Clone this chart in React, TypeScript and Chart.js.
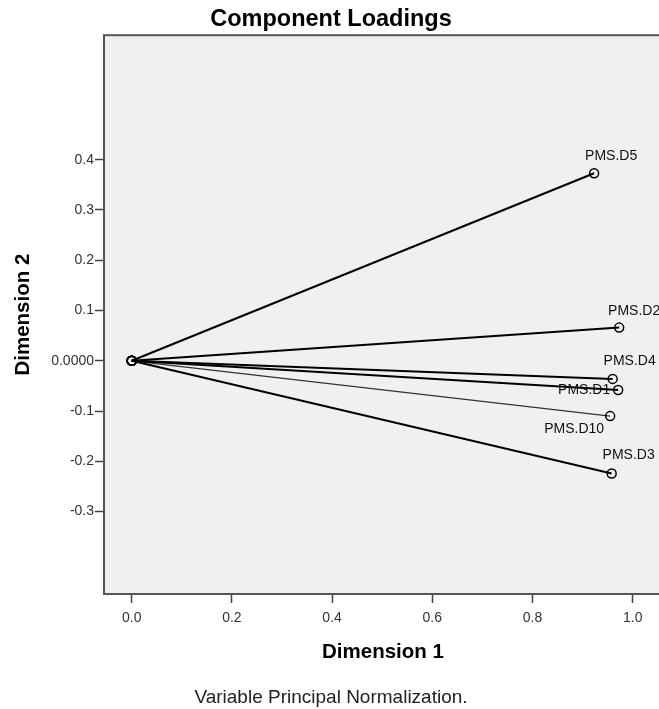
import React, { useEffect, useRef } from 'react';
import { Chart, registerables } from 'chart.js';

Chart.register(...registerables);

// ---- data ----
const variables = ['PMS.D5', 'PMS.D2', 'PMS.D4', 'PMS.D1', 'PMS.D10', 'PMS.D3'];
const dimension1 = [0.923, 0.973, 0.96, 0.971, 0.955, 0.958];
const dimension2 = [0.373, 0.066, -0.036, -0.058, -0.11, -0.224];
const xTickValues = [0, 0.2, 0.4, 0.6, 0.8, 1.0];
const xTickLabels = ['0.0', '0.2', '0.4', '0.6', '0.8', '1.0'];
const yTickValues = [-0.3, -0.2, -0.1, 0, 0.1, 0.2, 0.3, 0.4];
const yTickLabels = ['-0.3', '-0.2', '-0.1', '0.0000', '0.1', '0.2', '0.3', '0.4'];

// ---- styling ----
const FONT = 'Arial, "Liberation Sans", Helvetica, sans-serif';
const LABEL_OFFSETS: Record<string, [number, number]> = {
  'PMS.D5': [17, -17],
  'PMS.D2': [15, -16],
  'PMS.D4': [17, -18],
  'PMS.D1': [-34, 0],
  'PMS.D10': [-36, 13],
  'PMS.D3': [17, -18],
};

const findLabel = (vals: number[], labels: string[], v: number) => {
  const i = vals.findIndex((t) => Math.abs(t - v) < 1e-9);
  return i >= 0 ? labels[i] : '';
};

const framePlugin = {
  id: 'frame',
  beforeDraw(chart: any) {
    const { ctx, chartArea: a } = chart;
    ctx.save();
    ctx.fillStyle = '#ffffff';
    ctx.fillRect(0, 0, chart.width, chart.height);
    ctx.fillStyle = '#f0f0f0';
    ctx.fillRect(a.left, a.top, a.right - a.left, a.bottom - a.top);
    ctx.restore();
  },
  afterDatasetsDraw(chart: any) {
    const { ctx, chartArea: a, scales } = chart;
    ctx.save();
    ctx.strokeStyle = '#555555';
    ctx.lineWidth = 2;
    ctx.strokeRect(a.left, a.top, a.right - a.left, a.bottom - a.top);
    ctx.fillStyle = '#111111';
    ctx.font = `14px ${FONT}`;
    ctx.textAlign = 'center';
    ctx.textBaseline = 'middle';
    variables.forEach((name, i) => {
      const px = scales.x.getPixelForValue(dimension1[i]);
      const py = scales.y.getPixelForValue(dimension2[i]);
      const off = LABEL_OFFSETS[name] || [0, -16];
      ctx.fillText(name, px + off[0], py + off[1]);
    });
    ctx.restore();
  },
};

export default function App() {
  const ref = useRef<HTMLCanvasElement | null>(null);

  useEffect(() => {
    if (!ref.current) return;
    const datasets = variables.map((name, i) => ({
      label: name,
      data: [
        { x: 0, y: 0 },
        { x: dimension1[i], y: dimension2[i] },
      ],
      showLine: true,
      borderColor: name === 'PMS.D10' ? '#333333' : '#000000',
      borderWidth: name === 'PMS.D10' ? 1.3 : 2,
      pointRadius: 4.5,
      pointBorderWidth: 1.5,
      pointBorderColor: '#000000',
      pointBackgroundColor: 'rgba(0,0,0,0)',
      pointStyle: 'circle' as const,
    }));

    const chart = new Chart(ref.current, {
      type: 'scatter',
      data: { datasets },
      options: {
        responsive: false,
        animation: false,
        devicePixelRatio: 1,
        layout: { padding: { left: 0, right: 18, top: 0, bottom: 0 } },
        plugins: {
          legend: { display: false },
          tooltip: { enabled: false },
          title: {
            display: true,
            text: 'Component Loadings',
            color: '#000000',
            font: { family: FONT, size: 23.5, weight: 'bold' },
            padding: { top: 5, bottom: 2 },
          },
          subtitle: {
            display: true,
            position: 'bottom',
            text: 'Variable Principal Normalization.',
            color: '#222222',
            font: { family: FONT, size: 19, weight: 'normal' },
            padding: { top: 0, bottom: 0 },
          },
        },
        scales: {
          x: {
            type: 'linear',
            min: -0.0553,
            max: 1.0585,
            afterBuildTicks: (scale: any) => {
              scale.ticks = xTickValues.map((v) => ({ value: v }));
            },
            afterFit: (scale: any) => {
              scale.height = 92.2;
            },
            ticks: {
              callback: (v: any) => findLabel(xTickValues, xTickLabels, Number(v)),
              color: '#333333',
              font: { family: FONT, size: 14 },
              padding: 7,
              maxRotation: 0,
              autoSkip: false,
            },
            grid: {
              display: true,
              drawOnChartArea: false,
              drawTicks: true,
              tickLength: 9,
              tickColor: '#444444',
              tickWidth: 1.5,
            },
            border: { display: false },
            title: {
              display: true,
              text: 'Dimension 1',
              color: '#000000',
              font: { family: FONT, size: 20.5, weight: 'bold' },
              padding: { top: 0, bottom: 22 },
            },
          },
          y: {
            type: 'linear',
            min: -0.4638,
            max: 0.6475,
            afterBuildTicks: (scale: any) => {
              scale.ticks = yTickValues.map((v) => ({ value: v }));
            },
            afterFit: (scale: any) => {
              scale.width = 104;
            },
            ticks: {
              callback: (v: any) => findLabel(yTickValues, yTickLabels, Number(v)),
              color: '#333333',
              font: { family: FONT, size: 14 },
              padding: 1,
              autoSkip: false,
            },
            grid: {
              display: true,
              drawOnChartArea: false,
              drawTicks: true,
              tickLength: 9,
              tickColor: '#444444',
              tickWidth: 1.5,
            },
            border: { display: false },
            title: {
              display: true,
              text: 'Dimension 2',
              color: '#000000',
              font: { family: FONT, size: 20.5, weight: 'bold' },
              padding: { top: 11, bottom: 0 },
            },
          },
        },
      },
      plugins: [framePlugin],
    } as any);

    return () => chart.destroy();
  }, []);

  return (
    <div
      style={{
        position: 'absolute',
        left: 0,
        top: 0,
        width: 659,
        height: 709,
        overflow: 'hidden',
        background: '#ffffff',
      }}
    >
      <canvas ref={ref} width={680} height={709} style={{ display: 'block', width: 680, height: 709 }} />
    </div>
  );
}
